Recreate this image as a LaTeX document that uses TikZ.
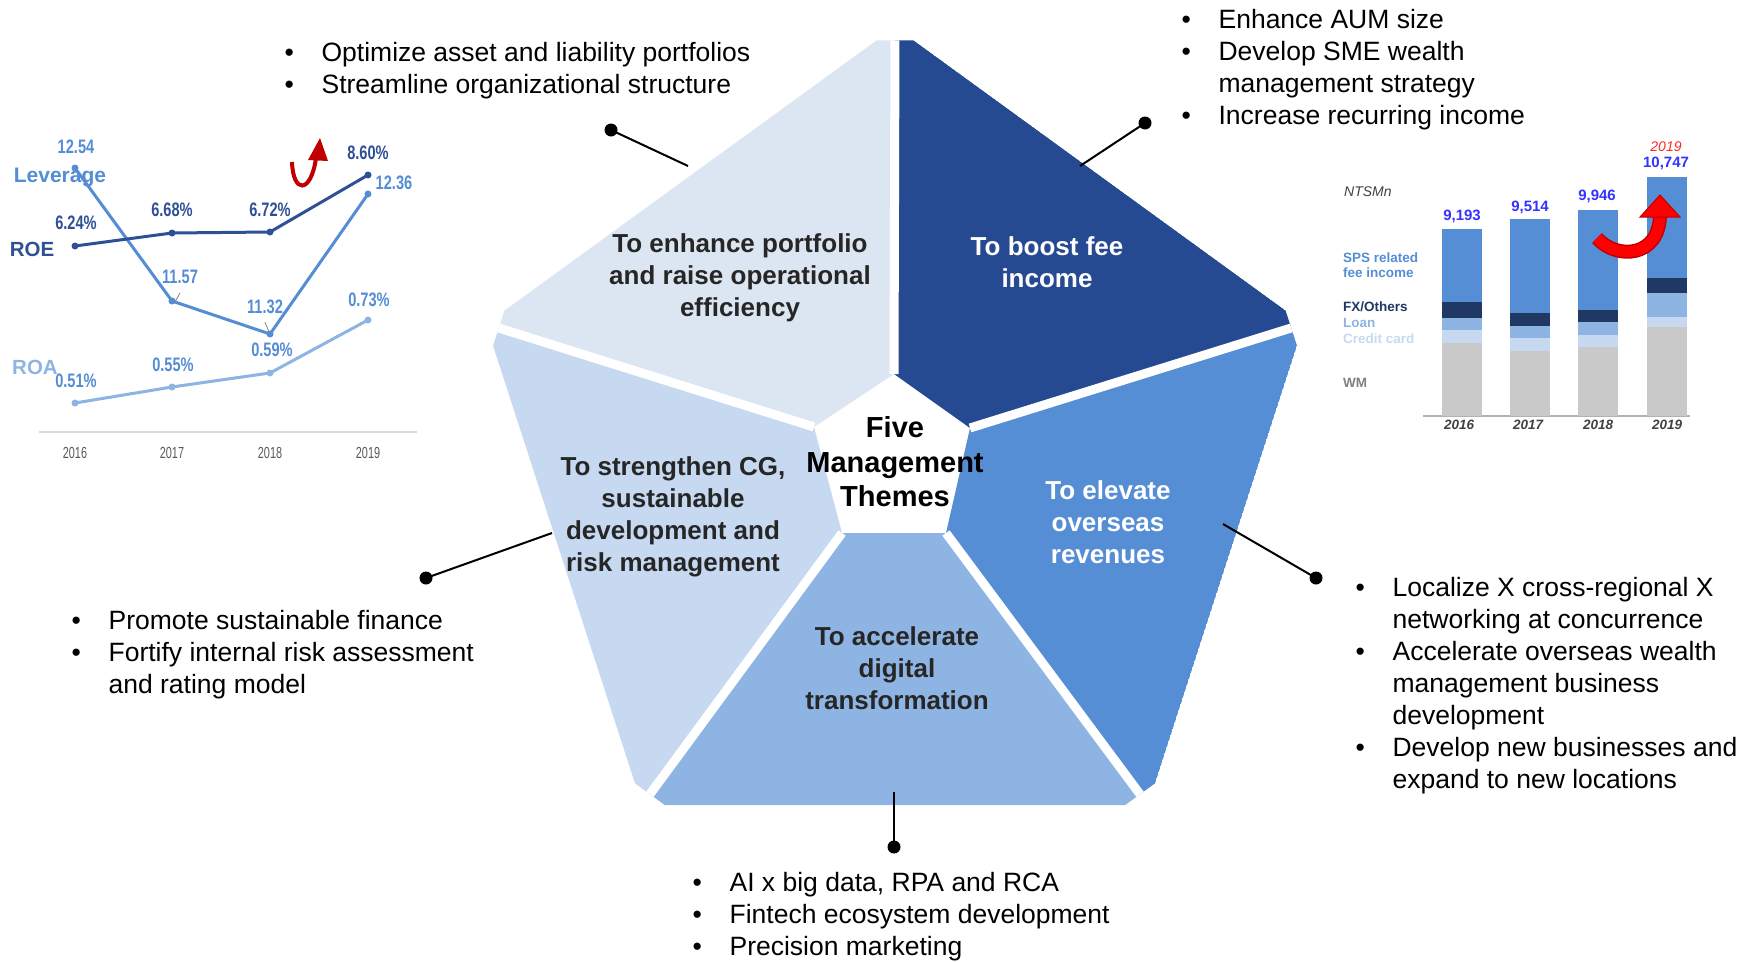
\documentclass[tikz,border=0pt]{standalone}
\usepackage{fontspec}
\setmainfont{Liberation Sans}
\newfontfamily\narrowfont[FakeStretch=0.75]{Liberation Sans}
\newfontfamily\yearfont[FakeStretch=0.68]{Liberation Sans}
\usetikzlibrary{calc}
\definecolor{pTL}{HTML}{DCE6F2}
\definecolor{pTR}{HTML}{264A91}
\definecolor{pR}{HTML}{558ED5}
\definecolor{pB}{HTML}{8EB4E3}
\definecolor{pL}{HTML}{C6D9F1}
\definecolor{txt}{HTML}{262626}
\definecolor{lev}{HTML}{548DD4}
\definecolor{roe}{HTML}{2F5096}
\definecolor{roa}{HTML}{8DB4E2}
\definecolor{fxc}{HTML}{1F3864}
\definecolor{wmc}{HTML}{C9C9C9}
\definecolor{valc}{HTML}{3333FF}
\definecolor{dred}{HTML}{C00000}
\definecolor{axisg}{HTML}{D9D9D9}
\definecolor{yearg}{HTML}{595959}
\definecolor{dgray}{HTML}{404040}
\newcommand\bitem[1]{\par\hangindent=37pt\hangafter=1\noindent\makebox[37pt][l]{\textbullet}#1}
\tikzset{
  bullets/.style={anchor=base west, inner sep=0pt, font=\fontsize{26.5}{32}\selectfont},
  theme/.style={align=center, inner sep=0pt, font=\bfseries\fontsize{26}{32}\selectfont, text=txt},
  dotnode/.style={circle, fill=black, inner sep=0pt, minimum size=13pt},
  conn/.style={line width=2pt},
  num/.style={font=\narrowfont\bfseries\fontsize{19.5}{20}\selectfont, inner sep=0pt},
  yr/.style={font=\yearfont\fontsize{16}{16}\selectfont, text=yearg, inner sep=0pt},
  serie/.style={line width=3pt, line join=round},
  pt/.style={circle, inner sep=0pt, minimum size=7pt, fill=#1},
  legend/.style={anchor=west, inner sep=0pt, font=\bfseries\fontsize{13.5}{15}\selectfont, align=left},
  val/.style={inner sep=0pt, font=\bfseries\fontsize{15}{15}\selectfont, text=valc},
  byr/.style={inner sep=0pt, font=\bfseries\itshape\fontsize{13.5}{14}\selectfont, text=dgray},
}
\begin{document}
\begin{tikzpicture}[x=1pt,y=-1pt]
\useasboundingbox (0,0) rectangle (1755,961);

% ---------------- pentagon ----------------
\coordinate (OT) at (895,27);
\coordinate (OUR) at (1304,324);
\coordinate (OUL) at (486,324);
\coordinate (OLR) at (1148,805);
\coordinate (OLL) at (642,805);
\coordinate (it) at (894,374);
\coordinate (iur) at (970,428);
\coordinate (iul) at (814,427);
\coordinate (ilr) at (946,533);
\coordinate (ill) at (842,533);
\begin{scope}
\clip ($(OT)!0.045!(OUR)$) -- ($(OUR)!0.045!(OT)$) -- ($(OUR)!0.045!(OLR)$) -- ($(OLR)!0.045!(OUR)$)
  -- ($(OLR)!0.045!(OLL)$) -- ($(OLL)!0.045!(OLR)$) -- ($(OLL)!0.045!(OUL)$) -- ($(OUL)!0.045!(OLL)$)
  -- ($(OUL)!0.045!(OT)$) -- ($(OT)!0.045!(OUL)$) -- cycle;
\fill[pTL] (OT) -- (OUL) -- (iul) -- (it) -- cycle;
\fill[pTR] (OT) -- (OUR) -- (iur) -- (it) -- cycle;
\fill[pR] (OUR) -- (OLR) -- (ilr) -- (iur) -- cycle;
\fill[pB] (OLR) -- (OLL) -- (ill) -- (ilr) -- cycle;
\fill[pL] (OLL) -- (OUL) -- (iul) -- (ill) -- cycle;
\foreach \a/\b in {it/OT,iur/OUR,iul/OUL,ilr/OLR,ill/OLL}
  \draw[white, line width=9pt] (\a) -- ($(\a)!1.1!(\b)$);
\end{scope}

% theme labels
\node[theme] (th1) at (740,278) {To enhance portfolio\\and raise operational\\efficiency};
\node[theme, text=white] (th2) at (1047,262) {To boost fee\\income};
\node[theme, text=black, font=\bfseries\fontsize{29}{34.5}\selectfont] (th0) at (895,462) {Five\\Management\\Themes};
\node[theme] (th5) at (673,517) {To strengthen CG,\\sustainable\\development and\\risk management};
\node[theme, text=white] (th3) at (1108,522) {To elevate\\overseas\\revenues};
\node[theme] (th4) at (897,668) {To accelerate\\digital\\transformation};

% connectors
\coordinate (c1) at (688,166);
\coordinate (c2) at (1080,166);
\coordinate (c3) at (552,533);
\coordinate (c4) at (1223,524);
\coordinate (c5) at (894,792);
\node[dotnode] (d1) at (611,130) {};
\node[dotnode] (d2) at (1145,123) {};
\node[dotnode] (d3) at (426,578) {};
\node[dotnode] (d4) at (1316,578) {};
\node[dotnode] (d5) at (894,847) {};
\draw[conn] (c1) -- (d1.center);
\draw[conn] (c2) -- (d2.center);
\draw[conn] (c3) -- (d3.center);
\draw[conn] (c4) -- (d4.center);
\draw[conn] (c5) -- (d5.center);

% bullet lists
\node[bullets] (b1) at (284.4,61) {\parbox[t]{600pt}{\raggedright
  \bitem{Optimize asset and liability portfolios}\bitem{Streamline organizational structure}}};
\node[bullets] (b2) at (1181.4,28) {\parbox[t]{560pt}{\raggedright
  \bitem{Enhance AUM size}\bitem{Develop SME wealth\newline management strategy}\bitem{Increase recurring income}}};
\node[bullets] (b3) at (71.4,629) {\parbox[t]{560pt}{\raggedright
  \bitem{Promote sustainable finance}\bitem{Fortify internal risk assessment\newline and rating model}}};
\node[bullets] (b4) at (1355.4,596) {\parbox[t]{560pt}{\raggedright
  \bitem{Localize X cross-regional X\newline networking at concurrence}\bitem{Accelerate overseas wealth\newline management business\newline development}\bitem{Develop new businesses and\newline expand to new locations}}};
\node[bullets] (b5) at (692.4,891) {\parbox[t]{560pt}{\raggedright
  \bitem{AI x big data, RPA and RCA}\bitem{Fintech ecosystem development}\bitem{Precision marketing}}};

% ---------------- left line chart ----------------
\draw[axisg, line width=2pt] (39,432) coordinate (ax1) -- (417,432) coordinate (ax2);
\foreach \x/\y in {75/2016,172/2017,270/2018,368/2019}
  \node[yr] (ly\y) at (\x,453) {\y};
\coordinate (e1) at (75,246); \coordinate (e2) at (172,233); \coordinate (e3) at (270,232); \coordinate (e4) at (368,175);
\coordinate (l1) at (75,168); \coordinate (l2) at (172,301); \coordinate (l3) at (270,334); \coordinate (l4) at (368,194);
\coordinate (a1) at (75,403); \coordinate (a2) at (172,387); \coordinate (a3) at (270,373); \coordinate (a4) at (368,320);
\draw[serie, roa] (a1) -- (a2) -- (a3) -- (a4);
\draw[serie, lev] (l1) -- (l2) -- (l3) -- (l4);
\draw[serie, roe] (e1) -- (e2) -- (e3) -- (e4);
\foreach \p in {a1,a2,a3,a4} \node[pt=roa] at (\p) {};
\foreach \p in {l1,l2,l3,l4} \node[pt=lev] at (\p) {};
\foreach \p in {e1,e2,e3,e4} \node[pt=roe] at (\p) {};
\draw[gray, line width=0.8pt] (180,293) -- (175,302);
\draw[gray, line width=0.8pt] (265,322) -- (269,332);
\node[num, text=lev] (n1) at (76,147) {12.54};
\node[num, text=roe] (n2) at (76,223) {6.24\%};
\node[num, text=roe] (n3) at (172,210) {6.68\%};
\node[num, text=roe] (n4) at (270,210) {6.72\%};
\node[num, text=roe] (n5) at (368,153) {8.60\%};
\node[num, text=lev] (n6) at (394,183) {12.36};
\node[num, text=lev] (n7) at (180,277) {11.57};
\node[num, text=lev] (n8) at (265,307) {11.32};
\node[num, text=lev] (n9) at (369,300) {0.73\%};
\node[num, text=lev] (n10) at (272,350) {0.59\%};
\node[num, text=lev] (n11) at (173,365) {0.55\%};
\node[num, text=lev] (n12) at (76,381) {0.51\%};
\node[inner sep=0pt, font=\bfseries\fontsize{21}{21}\selectfont, text=lev] (lv) at (60,177) {Leverage};
\node[inner sep=0pt, font=\bfseries\fontsize{20.5}{21}\selectfont, text=roe] (lroe) at (32,249) {ROE};
\node[inner sep=0pt, font=\bfseries\fontsize{20.5}{21}\selectfont, text=roa] (lroa) at (35,367) {ROA};
% small red curved arrow
\coordinate (la1) at (292,162);
\coordinate (la2) at (316,158);
\draw[dred, line width=4pt] (la1) .. controls (293,194) and (311,194) .. (la2);
\fill[dred] (320,138) -- (308,160) -- (328,161) -- cycle;

% ---------------- right bar chart ----------------
\draw[gray!60, line width=1.5pt] (1423,416) coordinate (bx1) -- (1690,416) coordinate (bx2);
\foreach \xa/\xb/\cc/\lo/\fx/\fa/\top in {1442/1482/343/330/318/302/229, 1510/1550/351/338/326/313/219, 1578/1618/347/335/322/310/210, 1647/1687/327/317/293/278/177}{
  \fill[wmc] (\xa,416) rectangle (\xb,\cc);
  \fill[pL] (\xa,\cc) rectangle (\xb,\lo);
  \fill[pB] (\xa,\lo) rectangle (\xb,\fx);
  \fill[fxc] (\xa,\fx) rectangle (\xb,\fa);
  \fill[pR] (\xa,\fa) rectangle (\xb,\top);
}
\node[val] (v1) at (1462,216) {9,193};
\node[val] (v2) at (1530,207) {9,514};
\node[val] (v3) at (1597,196) {9,946};
\node[val] (v4) at (1666,163) {10,747};
\node[inner sep=0pt, font=\itshape\fontsize{14}{14}\selectfont, text=red!85!white] (v5) at (1666,147) {2019};
\node[inner sep=0pt, font=\itshape\fontsize{14}{14}\selectfont, text=dgray, anchor=west] (unit) at (1344,192) {NTSMn};
\node[legend, text=pR] (lg1) at (1343,265.5) {SPS related\\fee income};
\node[legend, text=fxc] (lg2) at (1343,307) {FX/Others};
\node[legend, text=pB] (lg3) at (1343,323) {Loan};
\node[legend, text=pL] (lg4) at (1343,339) {Credit card};
\node[legend, text=gray] (lg5) at (1343,383) {WM};
\node[byr] (ry1) at (1459,425) {2016};
\node[byr] (ry2) at (1528,425) {2017};
\node[byr] (ry3) at (1598,425) {2018};
\node[byr] (ry4) at (1667,425) {2019};
% big red arrow
\coordinate (ra1) at (1597,238);
\coordinate (ra2) at (1660,214);
\draw[dred, line width=14pt] (ra1) .. controls (1616,260) and (1660,258) .. (ra2);
\draw[red, line width=11pt] (ra1) .. controls (1616,260) and (1660,258) .. (ra2);
\filldraw[fill=red, draw=dred, line width=1pt] (1660,195) -- (1640,217) -- (1680,217) -- cycle;
\end{tikzpicture}
\end{document}
